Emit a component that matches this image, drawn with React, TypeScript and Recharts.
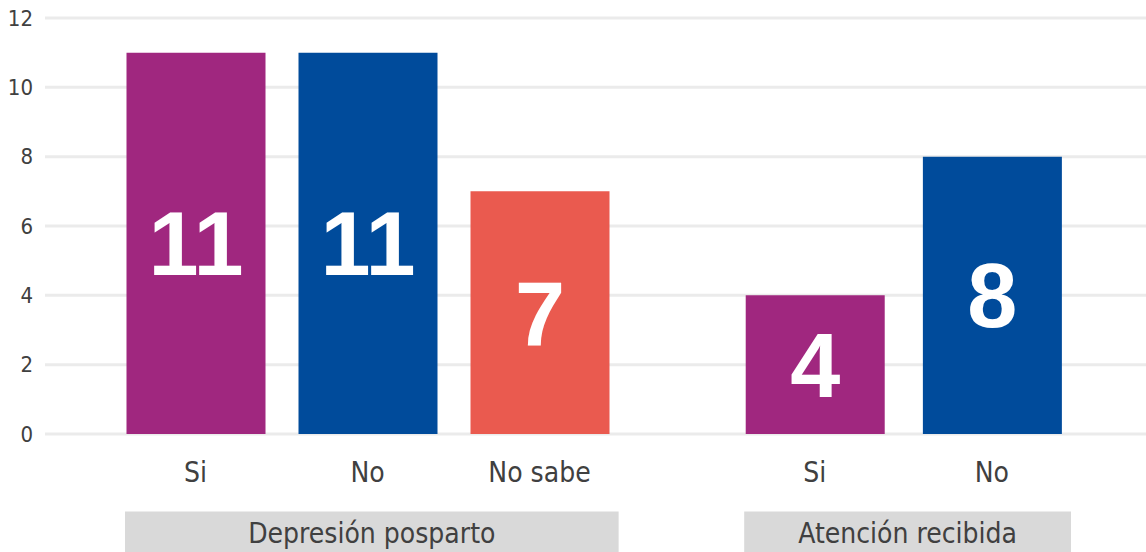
import React from "react";
import { BarChart, Bar, XAxis, YAxis, CartesianGrid, Cell, LabelList, ReferenceArea } from "recharts";

const categories = ["Si", "No", "No sabe", "Si", "No"];
const values = [11, 11, 7, 4, 8];
const slots = [1, 2, 3, 4.6, 5.63];
const barColors = ["#A0277F", "#004B9B", "#EA5A4F", "#A0277F", "#004B9B"];
const yTicks = [0, 2, 4, 6, 8, 10, 12];
const groupNames = ["Depresión posparto", "Atención recibida"];
const groupFirst = [0, 3];
const groupLast = [2, 4];

const data = categories.map((c, i) => ({ pos: slots[i], name: c, value: values[i] }));

const FONT = "'DejaVu Sans Condensed', 'DejaVu Sans', sans-serif";
const TEXT = "#404040";

export default function App() {
  return (
    <div style={{ position: "absolute", left: 0, top: 0, width: 1146, height: 552 }}>
      <BarChart width={1146} height={552} data={data} margin={{ top: 18, right: 0, bottom: 0, left: 0 }}>
        <CartesianGrid vertical={false} stroke="#EBEBEB" strokeWidth={3} />
        <XAxis
          dataKey="pos"
          type="number"
          domain={[0.125, 6.526]}
          allowDataOverflow
          ticks={slots}
          interval={0}
          tickFormatter={(v: number) => categories[slots.indexOf(v)] ?? ""}
          axisLine={false}
          tickLine={false}
          tickSize={0}
          tickMargin={28}
          height={118}
          tick={{ fill: TEXT, fontSize: 28, fontFamily: FONT }}
        />
        <YAxis
          domain={[0, 12]}
          ticks={yTicks}
          interval={0}
          axisLine={false}
          tickLine={false}
          tickSize={0}
          tickMargin={12}
          width={45}
          tick={{ fill: TEXT, fontSize: 22, fontFamily: FONT }}
        />
        {groupNames.map((g, i) => (
          <ReferenceArea
            key={g}
            x1={slots[groupFirst[i]] - 0.41}
            x2={slots[groupLast[i]] + 0.46}
            y1={-2.235}
            y2={-3.5}
            ifOverflow="visible"
            fill="#D9D9D9"
            fillOpacity={1}
            stroke="none"
            label={{ value: g, position: "center", fill: TEXT, fontSize: 28, fontFamily: FONT }}
          />
        ))}
        <Bar dataKey="value" barSize={139} isAnimationActive={false}>
          {data.map((d, i) => (
            <Cell key={i} fill={barColors[i]} />
          ))}
          <LabelList
            dataKey="value"
            position="center"
            fill="#FFFFFF"
            style={{ fontSize: 90, fontWeight: 700, fontFamily: "'Liberation Sans', Arial, sans-serif" }}
          />
        </Bar>
      </BarChart>
    </div>
  );
}
